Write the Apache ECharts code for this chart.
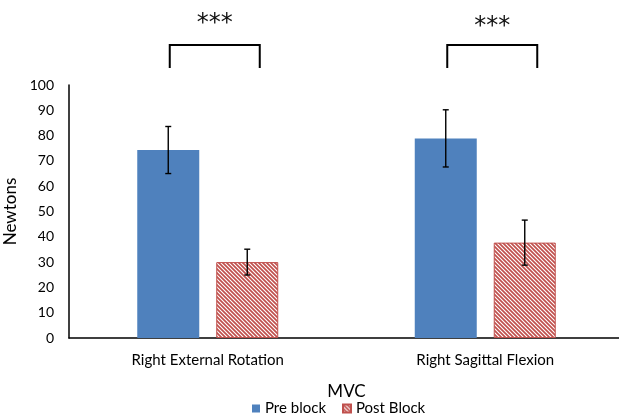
<!DOCTYPE html>
<html>
<head>
<meta charset="utf-8">
<script src="https://cdn.jsdelivr.net/npm/echarts@6/dist/echarts.min.js"></script>
<style>
  html, body { margin: 0; padding: 0; background: #fff; }
  #chart { width: 619px; height: 415px; }
</style>
</head>
<body>
<div id="chart"></div>
<script>
// Muscle force (MVC) before and after the block, with SD error bars
const categories = ['Right External Rotation', 'Right Sagittal Flexion'];
const seriesNames = ['Pre block', 'Post Block'];
const preValues = [74.3, 78.9];
const postValues = [30.0, 37.7];
const preErrors = [9.3, 11.3];
const postErrors = [5.1, 8.9];
const yTicks = [0, 100, 10];           // min, max, step
// significance brackets: [category, leg bottom, bracket top, stars height]
const brackets = [
  [0, 106.7, 115.8, 124.4],
  [1, 106.7, 115.8, 123.2]
];
const starsText = '***';

const BAR_WIDTH = 62;
const BAR_GAP_PX = 17;
const PRE_COLOR = '#4f81bd';
const POST_COLOR = '#c0504d';
const FONT = 'Lato';

// red diagonal hatch used for the post-block bars
function hatch() {
  const s = 4;
  const c = document.createElement('canvas');
  c.width = s; c.height = s;
  const g = c.getContext('2d');
  g.fillStyle = '#ffffff';
  g.fillRect(0, 0, s, s);
  g.strokeStyle = POST_COLOR;
  g.lineWidth = 1.7;
  g.beginPath();
  g.moveTo(-1, -1); g.lineTo(s + 1, s + 1);
  g.moveTo(-1, s - 1); g.lineTo(1, s + 1);
  g.moveTo(s - 1, -1); g.lineTo(s + 1, 1);
  g.stroke();
  return c;
}

const barOffset = (BAR_WIDTH + BAR_GAP_PX) / 2;

function errorRender(values, errors, sign) {
  return function (params, api) {
    const i = api.value(0);
    const v = values[i], e = errors[i];
    const hi = api.coord([i, v + e]);
    const lo = api.coord([i, v - e]);
    const x = hi[0] + sign * barOffset;
    const cap = 3;
    const style = { stroke: '#000', lineWidth: 1.4 };
    return {
      type: 'group',
      children: [
        { type: 'line', shape: { x1: x, y1: hi[1], x2: x, y2: lo[1] }, style },
        { type: 'line', shape: { x1: x - cap, y1: hi[1], x2: x + cap, y2: hi[1] }, style },
        { type: 'line', shape: { x1: x - cap, y1: lo[1], x2: x + cap, y2: lo[1] }, style }
      ]
    };
  };
}

function bracketRender(params, api) {
  const b = brackets[params.dataIndex];
  const low = api.coord([b[0], b[1]]);
  const top = api.coord([b[0], b[2]]);
  const star = api.coord([b[0], b[3]]);
  const xl = low[0] - 38, xr = low[0] + 52;
  return {
    type: 'group',
    children: [
      {
        type: 'polyline',
        shape: { points: [[xl, low[1]], [xl, top[1]], [xr, top[1]], [xr, low[1]]] },
        style: { stroke: '#000', lineWidth: 2, fill: null }
      },
      {
        type: 'text',
        style: {
          x: (xl + xr) / 2, y: star[1], text: starsText,
          fill: '#111', font: '24px "DejaVu Sans"',
          align: 'center', verticalAlign: 'middle'
        }
      }
    ]
  };
}

const chart = echarts.init(document.getElementById('chart'), null, { renderer: 'canvas' });

chart.setOption({
  animation: false,
  backgroundColor: '#fff',
  textStyle: { fontFamily: FONT },
  grid: { left: 69, top: 85, width: 555, height: 253, outerBoundsMode: 'none', containLabel: false },
  legend: {
    data: seriesNames,
    left: 252, top: 401, padding: 0,
    itemWidth: 8, itemHeight: 8, itemGap: 16,
    icon: 'rect',
    textStyle: { fontSize: 15, color: '#000', fontFamily: FONT }
  },
  xAxis: {
    type: 'category',
    data: categories,
    name: 'MVC',
    nameLocation: 'middle',
    nameGap: 45,
    nameTextStyle: { fontSize: 17, color: '#000', fontFamily: FONT },
    axisLine: { lineStyle: { color: '#000', width: 1.5 } },
    axisTick: { show: false },
    axisLabel: { fontSize: 15, color: '#000', margin: 15, fontFamily: FONT },
    splitLine: { show: false }
  },
  yAxis: {
    type: 'value',
    min: yTicks[0], max: yTicks[1], interval: yTicks[2],
    name: 'Newtons',
    nameLocation: 'middle',
    nameGap: 44,
    nameTextStyle: { fontSize: 17, color: '#000', fontFamily: FONT },
    axisLine: { show: true, lineStyle: { color: '#000', width: 1.5 } },
    axisTick: { show: false },
    axisLabel: { fontSize: 14, color: '#000', margin: 15, fontFamily: FONT },
    splitLine: { show: false }
  },
  series: [
    {
      name: seriesNames[0],
      type: 'bar',
      data: preValues,
      barWidth: BAR_WIDTH,
      barGap: (BAR_GAP_PX / BAR_WIDTH * 100).toFixed(1) + '%',
      itemStyle: { color: PRE_COLOR }
    },
    {
      name: seriesNames[1],
      type: 'bar',
      data: postValues,
      barWidth: BAR_WIDTH,
      itemStyle: {
        color: { image: hatch(), repeat: 'repeat' },
        borderColor: POST_COLOR,
        borderWidth: 1
      }
    },
    {
      type: 'custom',
      data: preValues.map((v, i) => [i, v]),
      renderItem: errorRender(preValues, preErrors, -1),
      clip: false, z: 5, silent: true
    },
    {
      type: 'custom',
      data: postValues.map((v, i) => [i, v]),
      renderItem: errorRender(postValues, postErrors, 1),
      clip: false, z: 5, silent: true
    },
    {
      type: 'custom',
      data: brackets.map(b => [b[0], b[2]]),
      renderItem: bracketRender,
      clip: false, z: 5, silent: true
    }
  ]
});
</script>
</body>
</html>
